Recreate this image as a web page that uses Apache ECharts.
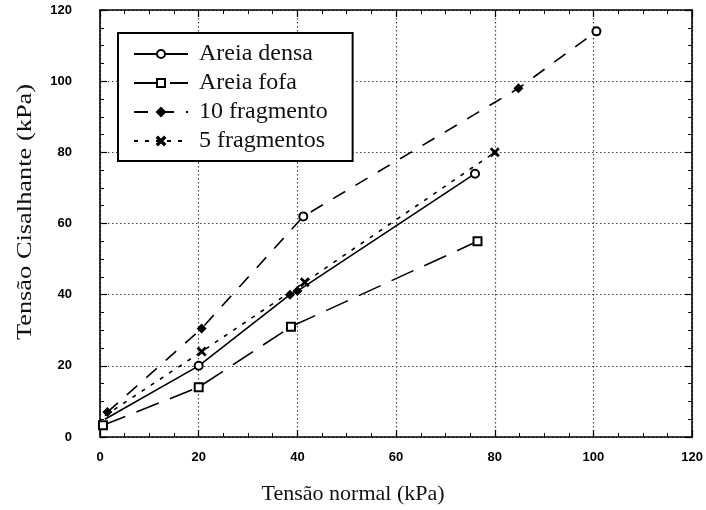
<!DOCTYPE html>
<html>
<head>
<meta charset="utf-8">
<script src="https://cdn.jsdelivr.net/npm/echarts@6/dist/echarts.min.js"></script>
<style>
  html, body { margin: 0; padding: 0; background: #fff; }
  #chart { width: 706px; height: 510px; }
</style>
</head>
<body>
<div id="chart"></div>
<script>
// Shear tests: shear stress vs. normal stress (kPa)
const seriesNames = ['Areia densa', 'Areia fofa', '10 fragmento', '5 fragmentos'];

const densaX = [1, 20, 38.5, 40, 76];
const densaY = [5, 20, 40, 41, 74];

const fofaX = [0.6, 20, 38.7, 76.5];
const fofaY = [3.3, 14, 31, 55];

const frag10X = [1.5, 20.6, 41.2, 84.8, 100.6];
const frag10Y = [7, 30.5, 62, 98, 114];

const frag5X = [1, 20.6, 41.5, 80];
const frag5Y = [6, 24, 43.5, 80];

const xTicks = [0, 20, 40, 60, 80, 100, 120];
const yTicks = [0, 20, 40, 60, 80, 100, 120];

const xTitle = 'Tensão normal (kPa)';
const yTitle = 'Tensão Cisalhante (kPa)';

// marker shapes
const X_MARK = 'path://M0,1.2 L1.2,0 L5,3.8 L8.8,0 L10,1.2 L6.2,5 L10,8.8 L8.8,10 L5,6.2 L1.2,10 L0,8.8 L3.8,5 Z';
const densaSym = ['none', 'emptyCircle', 'diamond', 'diamond', 'emptyCircle'];
const fofaSym = ['emptyRect', 'emptyRect', 'emptyRect', 'emptyRect'];
const frag10Sym = ['diamond', 'diamond', 'emptyCircle', 'diamond', 'emptyCircle'];
const frag5Sym = ['none', X_MARK, X_MARK, X_MARK];

function pts(xs, ys, syms) {
  return xs.map((x, i) => ({ value: [x, ys[i]], symbol: syms[i] }));
}

const chart = echarts.init(document.getElementById('chart'), null, { renderer: 'canvas' });

const SERIF = 'Liberation Serif, Times New Roman, serif';
const tickFont = { color: '#000', fontFamily: 'Liberation Sans, Arial, sans-serif', fontSize: 13, fontWeight: 'bold' };
const titleFont = { color: '#111', fontFamily: SERIF, fontSize: 22 };

function frameAxis(base) {
  return Object.assign({
    type: 'value', min: 0, max: 120, interval: 20,
    axisLine: { show: true, onZero: false, lineStyle: { color: '#000', width: 1.6 } },
    axisTick: { show: true, inside: true, length: 7, lineStyle: { color: '#000', width: 1.2 } },
    minorTick: { show: true, splitNumber: 4, length: 4, lineStyle: { color: '#000', width: 1 } },
    splitLine: { show: false }
  }, base);
}

const lineBase = {
  type: 'line', symbolSize: 8, z: 3,
  itemStyle: { color: '#000', borderColor: '#000', borderWidth: 1.4 },
  emphasis: { disabled: true }
};

chart.setOption({
  animation: false,
  backgroundColor: '#fff',
  grid: { left: 100, top: 10, right: 13, bottom: 72 },
  legend: {
    orient: 'vertical', left: 118, top: 33,
    data: seriesNames,
    itemWidth: 54, itemHeight: 10, itemGap: 5,
    padding: [9, 25, 8, 15],
    backgroundColor: '#fff',
    borderColor: '#000', borderWidth: 2,
    textStyle: { color: '#111', fontFamily: SERIF, fontSize: 24, lineHeight: 24, padding: [0, 0, 0, 6] },
    z: 10
  },
  graphic: [{
    type: 'text', x: 25, y: 212, rotation: Math.PI / 2, scaleX: 1.2,
    style: { text: yTitle, align: 'center', verticalAlign: 'middle', fill: titleFont.color, fontFamily: SERIF, fontSize: 22 },
    z: 10
  }],
  xAxis: [
    frameAxis({
      position: 'bottom',
      name: xTitle, nameLocation: 'middle', nameGap: 46,
      nameTextStyle: Object.assign({}, titleFont, { padding: [0, 86, 0, 0] }),
      axisLabel: Object.assign({ margin: 14, formatter: v => xTicks.includes(v) ? String(v) : '' }, tickFont),
      splitLine: { show: true, lineStyle: { color: '#444', type: [1.5, 2.5], width: 1.2 } }
    }),
    frameAxis({ position: 'top', axisLabel: { show: false } })
  ],
  yAxis: [
    frameAxis({
      position: 'left',
      axisLabel: Object.assign({ margin: 28, formatter: v => yTicks.includes(v) ? String(v) : '' }, tickFont),
      splitLine: { show: true, lineStyle: { color: '#444', type: [1.5, 2.5], width: 1.2 } }
    }),
    frameAxis({ position: 'right', axisLabel: { show: false } })
  ],
  series: [
    Object.assign({}, lineBase, {
      name: seriesNames[0], symbol: 'emptyCircle',
      lineStyle: { color: '#000', width: 1.6, type: 'solid' },
      data: pts(densaX, densaY, densaSym)
    }),
    Object.assign({}, lineBase, {
      name: seriesNames[1], symbol: 'emptyRect',
      lineStyle: { color: '#000', width: 1.6, type: [24, 12] },
      data: pts(fofaX, fofaY, fofaSym)
    }),
    Object.assign({}, lineBase, {
      name: seriesNames[2], symbol: 'diamond',
      lineStyle: { color: '#000', width: 1.6, type: [14, 12] },
      data: pts(frag10X, frag10Y, frag10Sym)
    }),
    Object.assign({}, lineBase, {
      name: seriesNames[3], symbol: X_MARK,
      lineStyle: { color: '#000', width: 1.6, type: [4, 7] },
      data: pts(frag5X, frag5Y, frag5Sym)
    })
  ]
});
</script>
</body>
</html>
